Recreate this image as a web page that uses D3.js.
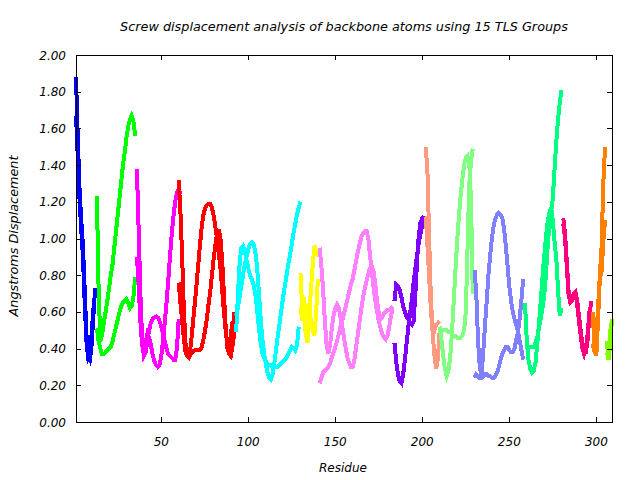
<!DOCTYPE html>
<html><head><meta charset="utf-8">
<script src="https://cdn.jsdelivr.net/npm/d3@7"></script>
<style>
html,body{margin:0;padding:0;background:#fff;}
text{font-family:"DejaVu Sans",sans-serif;font-style:italic;font-size:12px;fill:#000;}
</style></head>
<body>
<svg id="c" width="640" height="480"></svg>
<script>
// ---- data ----
const title = "Screw displacement analysis of backbone atoms using 15 TLS Groups";
const xLabel = "Residue";
const yLabel = "Angstroms Displacement";
const xTicks = [50, 100, 150, 200, 250, 300];
const yTicks = [0, 0.2, 0.4, 0.6, 0.8, 1.0, 1.2, 1.4, 1.6, 1.8, 2.0];
const groupStart = [1, 13, 36, 60, 93, 130, 141, 184, 202, 210, 230, 259, 281, 298, 306];
const seriesA = [
  [1.88,1.55,1.28,1.10,0.96,0.72,0.48,0.36,0.34,0.42,0.58,0.73],
  [1.23,0.72,0.44,0.48,0.54,0.60,0.66,0.73,0.80,0.86,0.95,1.04,1.13,1.22,1.31,1.40,1.47,1.55,1.61,1.65,1.67,1.64,1.56],
  [1.38,1.05,0.70,0.45,0.36,0.38,0.44,0.50,0.54,0.56,0.57,0.575,0.57,0.55,0.52,0.48,0.44,0.40,0.37,0.36,0.35,0.34,0.34,0.40,0.56],
  [0.76,0.65,0.55,0.45,0.38,0.36,0.36,0.42,0.52,0.62,0.72,0.83,0.94,1.04,1.12,1.16,1.18,1.19,1.19,1.17,1.13,1.07,1.00,0.92,0.84,0.72,0.60,0.50,0.41,0.37,0.36,0.42,0.60],
  [0.49,0.68,0.86,0.95,0.96,0.93,0.88,0.84,0.80,0.78,0.75,0.70,0.62,0.52,0.44,0.38,0.35,0.33,0.32,0.31,0.31,0.30,0.30,0.30,0.30,0.31,0.32,0.33,0.34,0.35,0.37,0.39,0.41,0.40,0.39,0.42,0.52],
  [0.81,0.62,0.58,0.48,0.43,0.58,0.72,0.85,0.96,0.93,0.90],
  [0.95,0.85,0.72,0.55,0.42,0.37,0.42,0.51,0.58,0.62,0.64,0.62,0.57,0.52,0.46,0.40,0.35,0.32,0.30,0.30,0.34,0.41,0.48,0.55,0.62,0.68,0.73,0.77,0.81,0.84,0.85,0.82,0.75,0.66,0.59,0.56,0.57,0.59,0.60,0.61,0.61,0.62,0.63],
  [0.66,0.75,0.74,0.72,0.68,0.63,0.60,0.57,0.56,0.54,0.53,0.55,0.70,0.88,1.02,1.09,1.11,1.12],
  [1.50,1.35,0.98,0.65,0.52,0.50,0.53,0.54,0.55],
  [0.52,0.45,0.36,0.29,0.25,0.28,0.35,0.48,0.65,0.82,0.98,1.12,1.23,1.32,1.40,1.44,1.45,1.41,1.20,0.70],
  [0.83,0.70,0.45,0.30,0.25,0.38,0.52,0.66,0.80,0.91,1.00,1.07,1.11,1.13,1.14,1.13,1.11,1.05,0.96,0.85,0.74,0.66,0.60,0.56,0.53,0.49,0.44,0.39,0.34],
  [0.65,0.45,0.34,0.29,0.27,0.28,0.32,0.42,0.53,0.65,0.78,0.90,1.00,1.09,1.14,1.17,1.10,0.98,0.89,0.72,0.58,0.62],
  [1.11,1.03,0.88,0.72,0.66,0.67,0.70,0.71,0.66,0.58,0.50,0.42,0.38,0.38,0.45,0.57,0.66],
  [0.60,0.37,0.45,0.63,0.80,0.95,1.30,1.50],
  [0.44,0.34,0.42,0.56]
];
const seriesB = [
  [1.67,1.45,1.22,1.05,0.90,0.65,0.44,0.35,0.37,0.48,0.62],
  [0.51,0.44,0.40,0.37,0.37,0.38,0.39,0.40,0.41,0.44,0.48,0.52,0.56,0.60,0.63,0.65,0.66,0.67,0.65,0.62,0.63,0.68,0.79],
  [0.90,0.75,0.55,0.42,0.37,0.43,0.48,0.46,0.42,0.37,0.33,0.31,0.30,0.31,0.36,0.44,0.54,0.65,0.77,0.90,1.02,1.12,1.20,1.25,1.27,1.24],
  [1.32,1.15,0.90,0.60,0.42,0.36,0.35,0.37,0.385,0.39,0.39,0.39,0.39,0.40,0.44,0.49,0.55,0.63,0.70,0.79,0.88,0.96,1.02,1.05,1.00,0.88,0.70,0.52,0.40,0.38,0.48,0.55,0.45],
  [0.58,0.62,0.68,0.74,0.80,0.86,0.90,0.94,0.97,0.98,0.97,0.93,0.85,0.72,0.58,0.46,0.38,0.32,0.27,0.24,0.23,0.26,0.32,0.40,0.47,0.54,0.61,0.68,0.74,0.80,0.86,0.91,0.97,1.03,1.08,1.13,1.17,1.20],
  [0.63,0.55,0.68,0.56,0.62,0.64,0.55,0.50,0.47,0.60,0.78],
  [0.21,0.24,0.27,0.28,0.29,0.30,0.32,0.35,0.38,0.41,0.44,0.48,0.52,0.55,0.59,0.63,0.67,0.71,0.75,0.78,0.83,0.88,0.93,0.97,1.01,1.03,1.04,1.04,1.00,0.90,0.82,0.73,0.66,0.60,0.55,0.51,0.48,0.46,0.45,0.47,0.52,0.58,0.62],
  [0.43,0.33,0.26,0.22,0.21,0.26,0.34,0.43,0.52,0.59,0.67,0.76,0.84,0.91,0.98,1.03,1.07,1.10,1.12],
  [1.12,0.95,0.78,0.60,0.48,0.36,0.29,0.35,0.50],
  [0.48,0.50,0.50,0.50,0.50,0.49,0.49,0.48,0.47,0.47,0.46,0.46,0.46,0.47,0.50,0.60,0.95,1.30,1.42,1.49],
  [0.24,0.26,0.25,0.24,0.24,0.25,0.26,0.26,0.25,0.25,0.24,0.24,0.25,0.27,0.30,0.34,0.37,0.39,0.41,0.41,0.39,0.38,0.38,0.40,0.45,0.49,0.57,0.67,0.78],
  [0.41,0.41,0.41,0.41,0.41,0.41,0.43,0.46,0.51,0.56,0.62,0.68,0.80,0.95,1.07,1.14,1.22,1.38,1.53,1.65,1.74,1.81],
  [1.08,1.00,0.85,0.70,0.65,0.66,0.69,0.70,0.64,0.55,0.47,0.40,0.37,0.40,0.48,0.60,0.64],
  [0.40,0.46,0.36,0.56,0.78,0.82,0.98,1.10],
  [0.38,0.35,0.50,0.55]
];
const groupColors = ["#0000ff","#00ff00","#ff00ff","#ff0000","#00ffff","#ffff00","#ff80ff","#8000ff",
  "#ff9980","#80ff80","#8080ff","#00ff80","#ff0080","#ff8000","#80ff00"];

// ---- chart ----
const svg = d3.select("#c");
const L = 76, R = 612, T = 55, B = 422;
const x = d3.scaleLinear().domain([1, 309]).range([L, R]);
const y = d3.scaleLinear().domain([0, 2]).range([B, T]);

const line = d3.line().x(d => x(d[0])).y(d => y(d[1]));
const plot = svg.append("g");
groupStart.forEach((s, g) => {
  [seriesA[g], seriesB[g]].forEach(vals => {
    const pts = vals.map((v, i) => [s + i, v]);
    plot.append("path").attr("d", line(pts))
      .attr("fill", "none").attr("stroke", groupColors[g])
      .attr("stroke-width", 4).attr("shape-rendering", "crispEdges");
  });
});

// axes with mirrored inward ticks
const tl = 5;
const ax = svg.append("g").attr("shape-rendering", "crispEdges");
xTicks.forEach(t => {
  const px = Math.round(x(t)) + 0.5;
  ax.append("line").attr("x1", px).attr("x2", px).attr("y1", B).attr("y2", B - tl).attr("stroke", "#000");
  ax.append("line").attr("x1", px).attr("x2", px).attr("y1", T).attr("y2", T + tl).attr("stroke", "#000");
  svg.append("text").attr("x", x(t)).attr("y", 446).attr("text-anchor", "middle").text(t);
});
yTicks.forEach(t => {
  const py = Math.round(y(t)) + 0.5;
  ax.append("line").attr("x1", L).attr("x2", L + tl).attr("y1", py).attr("y2", py).attr("stroke", "#000");
  ax.append("line").attr("x1", R).attr("x2", R - tl).attr("y1", py).attr("y2", py).attr("stroke", "#000");
  svg.append("text").attr("x", 66).attr("y", y(t) + 4.5).attr("text-anchor", "end").text(d3.format(".2f")(t));
});
ax.append("rect").attr("x", L + 0.5).attr("y", T + 0.5).attr("width", R - L).attr("height", B - T)
  .attr("fill", "none").attr("stroke", "#000");

svg.append("text").attr("x", 344).attr("y", 31).attr("text-anchor", "middle")
  .style("font-size", "12.8px").text(title);
svg.append("text").attr("x", 343).attr("y", 472).attr("text-anchor", "middle").text(xLabel);
svg.append("text").attr("transform", "translate(18,236) rotate(-90)").attr("text-anchor", "middle")
  .style("font-size", "12.8px").text(yLabel);
</script>
</body></html>
